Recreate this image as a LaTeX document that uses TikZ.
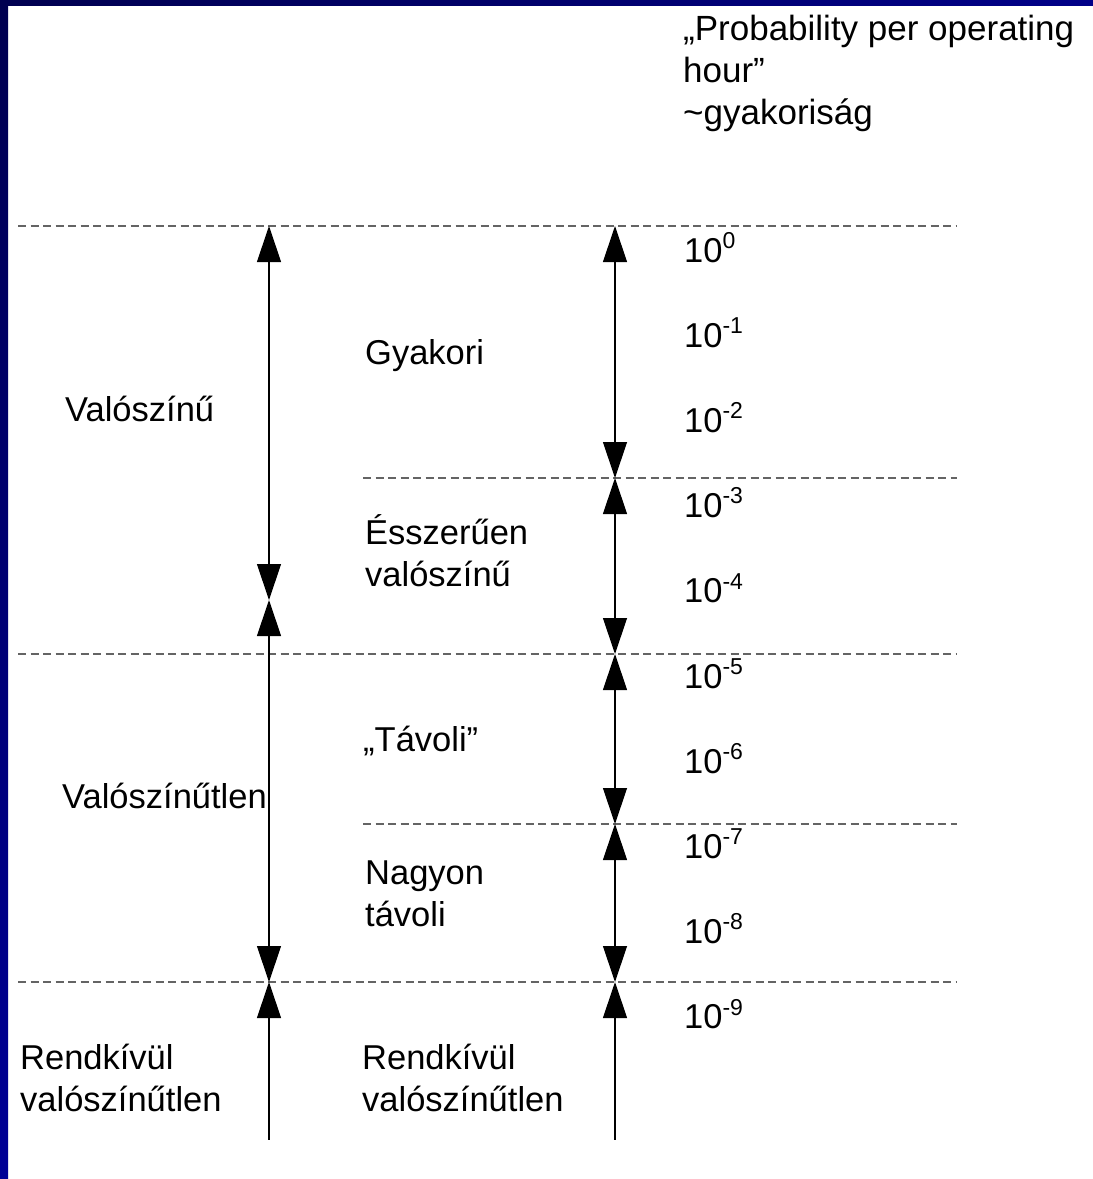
\documentclass[tikz,border=0pt]{standalone}
\usepackage{fontspec}
\setmainfont{Liberation Sans}
\usetikzlibrary{arrows.meta}
\definecolor{bardark}{RGB}{0,0,80}
\definecolor{barlight}{RGB}{0,0,150}
\definecolor{sepgray}{RGB}{100,100,100}
\begin{document}
\begin{tikzpicture}[x=1pt,y=-1pt,
  lbl/.style={anchor=base west, inner sep=0pt, align=left, font=\fontsize{34.5}{42}\selectfont},
  hdr/.style={anchor=base west, inner sep=0pt, align=left, font=\fontsize{35}{42}\selectfont},
  sepline/.style={draw=sepgray, line width=1.4pt, dash pattern=on 8pt off 4.5pt},
  axisline/.style={draw=black, line width=1.2pt},
  >={Triangle[length=36pt,width=24pt]}
]
\useasboundingbox (0,0) rectangle (1093,1179);
\fill[white] (0,0) rectangle (1093,1179);
\shade[top color=bardark, bottom color=barlight] (0,0) rectangle (8,1179);
\shade[left color=bardark, right color=barlight!80!bardark] (0,0) rectangle (1093,5);

% separator lines
\coordinate (s1a) at (18,226);  \coordinate (s1b) at (957,226);
\coordinate (s2a) at (363,478); \coordinate (s2b) at (957,478);
\coordinate (s3a) at (18,654);  \coordinate (s3b) at (957,654);
\coordinate (s4a) at (363,824); \coordinate (s4b) at (957,824);
\coordinate (s5a) at (18,982);  \coordinate (s5b) at (957,982);
\foreach \i in {1,...,5} \draw[sepline] (s\i a) -- (s\i b);

% left axis
\coordinate (L0) at (269,226);
\coordinate (L1) at (269,600);
\coordinate (L2) at (269,982);
\coordinate (L3) at (269,1140);
\draw[axisline,<->] (L0) -- (L1);
\draw[axisline,<->] (L1) -- (L2);
\draw[axisline,<-] (L2) -- (L3);

% right axis
\coordinate (R0) at (615,226);
\coordinate (R1) at (615,478);
\coordinate (R2) at (615,654);
\coordinate (R3) at (615,824);
\coordinate (R4) at (615,982);
\coordinate (R5) at (615,1140);
\draw[axisline,<->] (R0) -- (R1);
\draw[axisline,<->] (R1) -- (R2);
\draw[axisline,<->] (R2) -- (R3);
\draw[axisline,<->] (R3) -- (R4);
\draw[axisline,<-] (R4) -- (R5);

% header (base anchor = baseline of last line)
\node[hdr] (head) at (683,124) {„Probability per operating\\hour”\\\textasciitilde gyakoriság};

% left labels
\node[lbl] (valo) at (65,421) {Valószínű};
\node[lbl] (valotlen) at (62,808) {Valószínűtlen};
\node[lbl] (rendL) at (20,1111) {Rendkívül\\valószínűtlen};

% middle labels
\node[lbl] (gyak) at (365,364) {Gyakori};
\node[lbl] (essz) at (365,586) {Ésszerűen\\valószínű};
\node[lbl] (tav) at (363,751) {„Távoli”};
\node[lbl] (nagy) at (365,926) {Nagyon\\távoli};
\node[lbl] (rendR) at (362,1111) {Rendkívül\\valószínűtlen};

% exponents
\foreach \k/\e in {0/0,1/-1,2/-2,3/-3,4/-4,5/-5,6/-6,7/-7,8/-8,9/-9}
  \node[lbl] (p\k) at (684,{262+85.2*\k}) {10\raisebox{0.4em}{\fontsize{23}{23}\selectfont\e}};
\end{tikzpicture}
\end{document}
